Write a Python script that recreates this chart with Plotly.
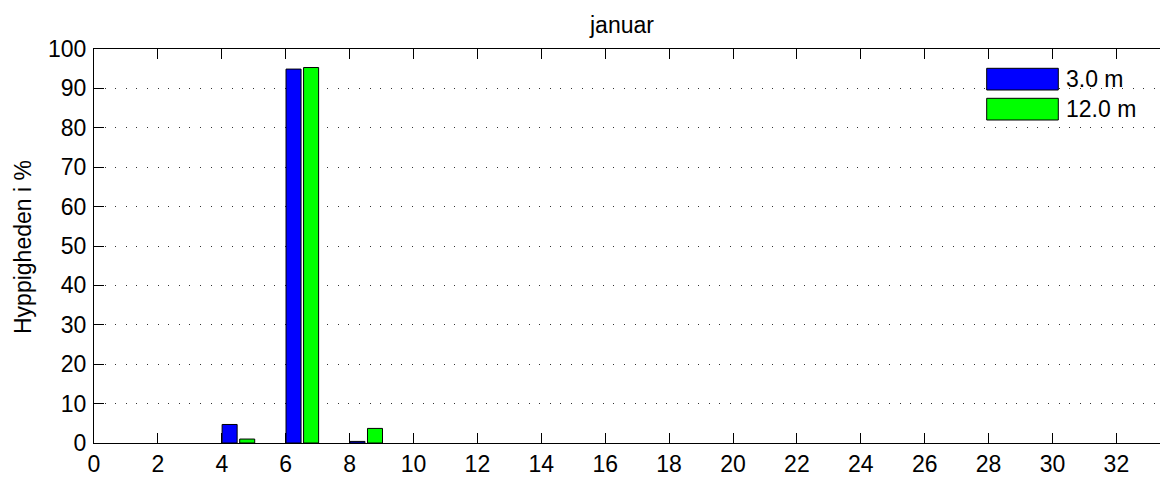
import plotly.graph_objects as go

# Wind-speed bins (bin centres) and relative frequency per measuring height
bin_centres = [0.5, 2.5, 4.5, 6.5, 8.5, 10.5, 12.5, 14.5, 16.5, 18.5,
               20.5, 22.5, 24.5, 26.5, 28.5, 30.5, 32.5]
freq_3m = [0, 0, 4.7, 94.9, 0.4, 0, 0, 0, 0, 0, 0, 0, 0, 0, 0, 0, 0]
freq_12m = [0, 0, 1.0, 95.3, 3.7, 0, 0, 0, 0, 0, 0, 0, 0, 0, 0, 0, 0]

series_names = ["3.0 m", "12.0 m"]
series_colors = ["#0000FF", "#00FF00"]

x_ticks = list(range(0, 33, 2))
y_ticks = list(range(0, 101, 10))

FONT = "Liberation Sans, Arial, Helvetica, sans-serif"
FS = 23

W, H = 1160, 478
ML, MR, MT, MB = 94, 0, 49, 35
PW, PH = W - ML - MR, H - MT - MB


def px_x(x):
    return (x - ML) / PW


def px_y(y):
    return (H - MB - y) / PH


def edge_widths(values):
    # empty bins get no outline so they stay invisible on the baseline
    return [1 if v > 0 else 0 for v in values]


fig = go.Figure()
fig.add_trace(go.Bar(
    x=bin_centres, y=freq_3m, name=series_names[0],
    width=0.47, offset=-0.49,
    marker=dict(color=series_colors[0],
                line=dict(color="black", width=edge_widths(freq_3m))),
    showlegend=False,
))
fig.add_trace(go.Bar(
    x=bin_centres, y=freq_12m, name=series_names[1],
    width=0.47, offset=0.06,
    marker=dict(color=series_colors[1],
                line=dict(color="black", width=edge_widths(freq_12m))),
    showlegend=False,
))

# Legend drawn as wide swatches with labels
legend_rows = [(68.3, 90.0), (98.3, 120.0)]
shapes = []
annotations = []
for (y0, y1), name, col in zip(legend_rows, series_names, series_colors):
    shapes.append(dict(
        type="rect", xref="paper", yref="paper",
        x0=px_x(986.7), x1=px_x(1058.3), y0=px_y(y1), y1=px_y(y0),
        fillcolor=col, line=dict(color="black", width=1),
    ))
    annotations.append(dict(
        xref="paper", yref="paper", x=px_x(1064), y=px_y((y0 + y1) / 2),
        text=name, showarrow=False, xanchor="left", yanchor="middle",
        font=dict(family=FONT, size=FS, color="black"),
    ))

annotations.append(dict(
    xref="paper", yref="paper", x=px_x(621.7), y=px_y(25),
    text="januar", showarrow=False, xanchor="center", yanchor="middle",
    font=dict(family=FONT, size=FS, color="black"),
))
annotations.append(dict(
    xref="paper", yref="paper", x=px_x(23), y=px_y(247),
    text="Hyppigheden i %", showarrow=False, textangle=-90,
    xanchor="center", yanchor="middle",
    font=dict(family=FONT, size=FS, color="black"),
))

fig.update_layout(
    width=W, height=H,
    margin=dict(l=ML, r=MR, t=MT, b=MB, pad=0),
    paper_bgcolor="white", plot_bgcolor="white",
    barmode="overlay",
    shapes=shapes, annotations=annotations,
    font=dict(family=FONT, size=FS, color="black"),
)
fig.update_xaxes(
    range=[0, PW / 31.95], tickmode="array", tickvals=x_ticks,
    ticks="inside", ticklen=10, tickwidth=1, tickcolor="black",
    showline=True, linecolor="black", linewidth=1, mirror="ticks",
    showgrid=False, zeroline=False,
    tickfont=dict(family=FONT, size=FS, color="black"),
)
fig.update_yaxes(
    range=[0, 100], tickmode="array", tickvals=y_ticks,
    ticks="inside", ticklen=10, tickwidth=1, tickcolor="black",
    showline=True, linecolor="black", linewidth=1, mirror=False,
    showgrid=True, gridcolor="#333333", gridwidth=1, griddash="1px,9.6px",
    zeroline=False, ticklabelstandoff=2,
    tickfont=dict(family=FONT, size=FS, color="black"),
)

fig.write_html("out.html")
